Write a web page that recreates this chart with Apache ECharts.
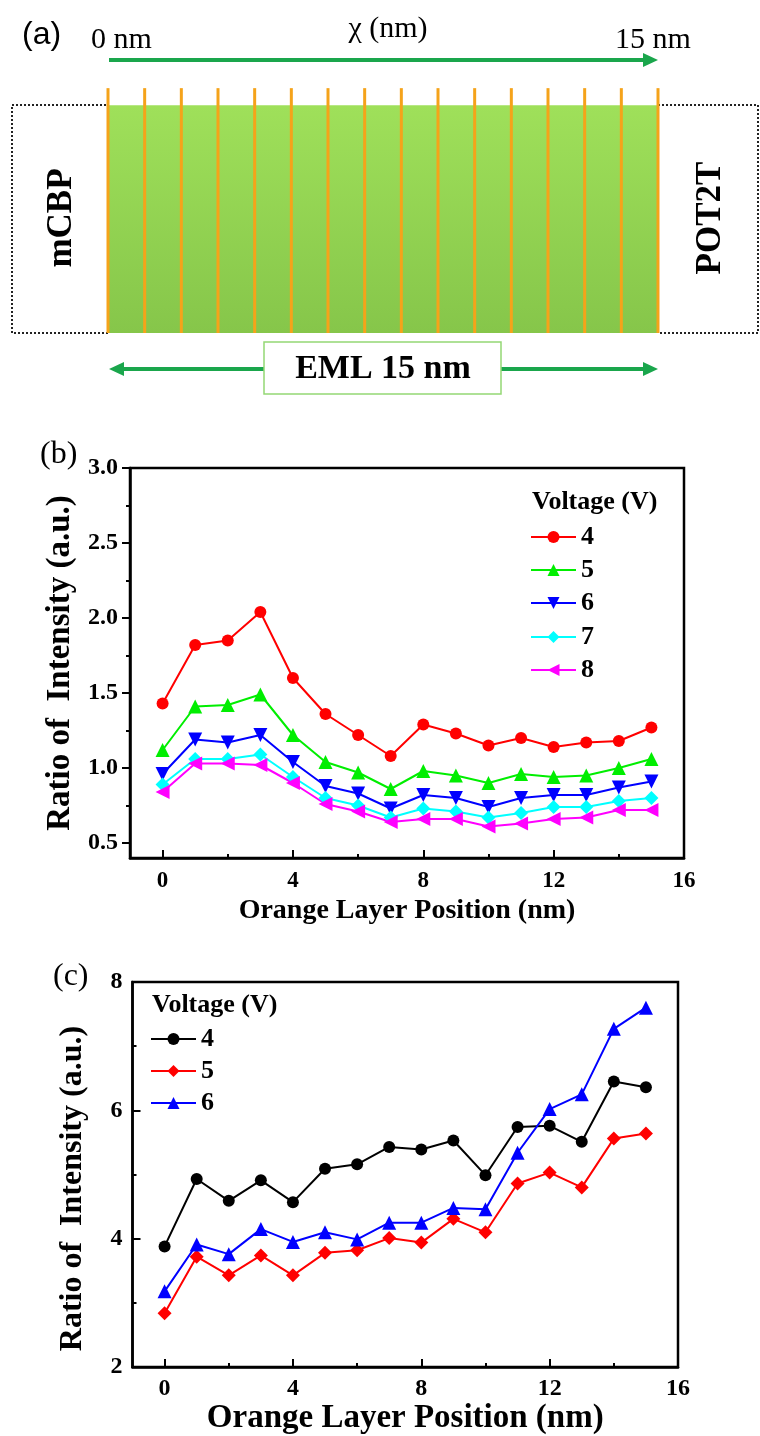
<!DOCTYPE html>
<html>
<head>
<meta charset="utf-8">
<script src="https://cdn.jsdelivr.net/npm/echarts@6/dist/echarts.min.js"></script>
<style>
html,body{margin:0;padding:0;background:#fff;}
#chart{width:760px;height:1436px;}
</style>
</head>
<body>
<div id="chart"></div>
<script>
// ---------- data ----------
const positions = [0,1,2,3,4,5,6,7,8,9,10,11,12,13,14,15];   // orange layer position (nm)
const layerPositions = [0,1,2,3,4,5,6,7,8,9,10,11,12,13,14,15]; // panel (a) orange layers

// panel (b)
const b4 = [1.43,1.82,1.85,2.04,1.60,1.36,1.22,1.08,1.29,1.23,1.15,1.20,1.14,1.17,1.18,1.27];
const b5 = [1.12,1.41,1.42,1.49,1.22,1.04,0.97,0.86,0.98,0.95,0.90,0.96,0.94,0.95,1.00,1.06];
const b6 = [0.96,1.19,1.17,1.22,1.04,0.88,0.83,0.73,0.82,0.80,0.74,0.80,0.82,0.82,0.87,0.91];
const b7 = [0.89,1.06,1.06,1.09,0.94,0.80,0.75,0.67,0.73,0.71,0.67,0.70,0.74,0.74,0.78,0.80];
const b8 = [0.84,1.03,1.03,1.02,0.90,0.76,0.71,0.64,0.66,0.66,0.61,0.63,0.66,0.67,0.72,0.72];

// panel (c)
const c4 = [3.88,4.93,4.59,4.91,4.57,5.09,5.16,5.43,5.39,5.53,4.99,5.74,5.76,5.51,6.45,6.36];
const c5 = [2.84,3.72,3.43,3.74,3.43,3.78,3.82,4.01,3.94,4.31,4.10,4.86,5.03,4.80,5.56,5.64];
const c6 = [3.18,3.91,3.76,4.15,3.95,4.10,3.99,4.25,4.25,4.48,4.46,5.34,6.02,6.25,7.27,7.60];

// ticks
const xMajor = [0,4,8,12,16];
const xMinor = [2,6,10,14];
const bYMajor = [0.5,1.0,1.5,2.0,2.5,3.0];
const bYMinor = [0.75,1.25,1.75,2.25,2.75];
const cYMajor = [2,4,6,8];
const cYMinor = [3,5,7];

const legendTitle = 'Voltage (V)';
const xName = 'Orange Layer Position (nm)';
const yName = 'Ratio of  Intensity (a.u.)';

// ---------- chart ----------
const SERIF = 'Liberation Serif';
const chart = echarts.init(document.getElementById('chart'), null, {renderer:'canvas'});
const pair = (ys) => positions.map((x,i)=>[x, ys[i]]);

function lbl(size){ return {fontFamily:SERIF, fontWeight:'bold', fontSize:size, color:'#000'}; }

function majorX(gridIndex, nameSize, nameGap, margin, lblSize){
  return {type:'value', gridIndex, min:-1, max:16, position:'bottom',
    name:xName, nameLocation:'middle', nameGap,
    nameTextStyle:{fontFamily:SERIF, fontWeight:'bold', fontSize:nameSize, color:'#000'},
    axisLine:{show:true, onZero:false, lineStyle:{color:'#000', width:2.5}},
    axisTick:{show:true, inside:true, length:8, customValues:xMajor, lineStyle:{color:'#000', width:2}},
    axisLabel:{show:true, customValues:xMajor, margin, ...lbl(lblSize)},
    splitLine:{show:false}};
}
function minorX(gridIndex){
  return {type:'value', gridIndex, min:-1, max:16, position:'bottom',
    axisLine:{show:false, onZero:false},
    axisTick:{show:true, inside:true, length:4, customValues:xMinor, lineStyle:{color:'#000', width:2}},
    axisLabel:{show:false, customValues:xMinor}, splitLine:{show:false}};
}
function majorY(gridIndex, min, max, ticks, inside, fmt, nameGap, margin, nameSize, namePad){
  return {type:'value', gridIndex, min, max, position:'left',
    name:yName, nameLocation:'middle', nameGap,
    nameTextStyle:{fontFamily:SERIF, fontWeight:'bold', fontSize:nameSize, color:'#000', padding:namePad},
    axisLine:{show:true, onZero:false, lineStyle:{color:'#000', width:2.5}},
    axisTick:{show:true, inside, length:8, customValues:ticks, lineStyle:{color:'#000', width:2}},
    axisLabel:{show:true, customValues:ticks, margin, formatter:fmt, ...lbl(24)},
    splitLine:{show:false}};
}
function minorY(gridIndex, min, max, ticks, inside){
  return {type:'value', gridIndex, min, max, position:'left',
    axisLine:{show:false, onZero:false},
    axisTick:{show:true, inside, length:4, customValues:ticks, lineStyle:{color:'#000', width:2}},
    axisLabel:{show:false, customValues:ticks}, splitLine:{show:false}};
}

function lineSeries(name, xAxisIndex, yAxisIndex, data, color, symbol, size, rot){
  return {type:'line', name, xAxisIndex, yAxisIndex, data:pair(data),
    symbol, symbolSize:size, symbolRotate:rot||0, showSymbol:true,
    lineStyle:{color, width:2}, itemStyle:{color, borderWidth:0},
    emphasis:{disabled:true}, animation:false, z:3};
}

function legendItem(name, left, cy){
  return {data:[name], left, top:cy-13, orient:'vertical', padding:0, itemGap:0,
    itemWidth:45, itemHeight:15, selectedMode:false,
    formatter:(n)=>n.slice(1),
    textStyle:{fontFamily:SERIF, fontWeight:'bold', fontSize:26, color:'#000', lineHeight:26}};
}

const greenGrad = new echarts.graphic.LinearGradient(0,0,0,1,[
  {offset:0,color:'#9fe05a'},{offset:1,color:'#86c64a'}]);

const option = {
  backgroundColor:'#fff',
  animation:false,
  grid:[
    {left:130, top:468, width:554, height:390, show:true, borderColor:'#000', borderWidth:2.5, backgroundColor:'transparent'},
    {left:132.5, top:982, width:545.5, height:386, show:true, borderColor:'#000', borderWidth:2.5, backgroundColor:'transparent'},
    {left:108, top:87, width:550, height:246, show:false}
  ],
  xAxis:[
    majorX(0, 28, 39, 12, 23),
    minorX(0),
    majorX(1, 33, 32, 10, 24),
    minorX(1),
    {type:'value', gridIndex:2, min:0, max:15, show:false}
  ],
  yAxis:[
    majorY(0, 0.4, 3.0, bYMajor, false, (v)=>Number(v).toFixed(1), 52, 12, 33, [0,0,0,0]),
    minorY(0, 0.4, 3.0, bYMinor, false),
    majorY(1, 2, 8, cYMajor, true, (v)=>String(v), 44, 10, 32, [0,28,0,0]),
    minorY(1, 2, 8, cYMinor, true),
    {type:'value', gridIndex:2, min:0, max:1.08, show:false}
  ],
  legend:[
    legendItem('b4', 530, 537),
    legendItem('b5', 530, 570),
    legendItem('b6', 530, 603),
    legendItem('b7', 530, 637),
    legendItem('b8', 530, 670),
    legendItem('c4', 150, 1039),
    legendItem('c5', 150, 1071),
    legendItem('c6', 150, 1103)
  ],
  series:[
    lineSeries('b4',0,0,b4,'#ff0000','circle',12),
    lineSeries('b5',0,0,b5,'#00ee00','triangle',14),
    lineSeries('b6',0,0,b6,'#0000ff','triangle',14,180),
    lineSeries('b7',0,0,b7,'#00ffff','diamond',14),
    lineSeries('b8',0,0,b8,'#ff00ff','triangle',14,90),
    lineSeries('c4',2,2,c4,'#000000','circle',12),
    lineSeries('c5',2,2,c5,'#ff0000','diamond',14),
    lineSeries('c6',2,2,c6,'#0000ff','triangle',14),
    // panel (a): EML block and orange layers
    {type:'line', name:'eml', xAxisIndex:4, yAxisIndex:4, data:[], z:1, silent:true,
      markArea:{silent:true, itemStyle:{color:greenGrad}, label:{show:false},
        data:[[{coord:[0,0]},{coord:[15,1.0]}]]}},
    {type:'bar', name:'layers', xAxisIndex:4, yAxisIndex:4, barWidth:3, z:3, silent:true,
      itemStyle:{color:'#f5a31a'},
      data:layerPositions.map(x=>[x,1.075])}
  ],
  graphic:[
    {type:'text', x:22, y:35, style:{text:'(a)', font:'32px "Liberation Sans"', fill:'#000', verticalAlign:'middle'}},
    {type:'text', x:91, y:40, style:{text:'0 nm', font:'30px "Liberation Serif"', fill:'#000', verticalAlign:'middle'}},
    {type:'text', x:388, y:29, style:{text:'χ (nm)', font:'30px "Liberation Serif"', fill:'#000', align:'center', verticalAlign:'middle'}},
    {type:'text', x:615, y:40, style:{text:'15 nm', font:'30px "Liberation Serif"', fill:'#000', verticalAlign:'middle'}},
    {type:'line', shape:{x1:109,y1:60,x2:646,y2:60}, style:{stroke:'#1aa64c', lineWidth:4}},
    {type:'polygon', shape:{points:[[643,53],[658,60],[643,67]]}, style:{fill:'#1aa64c'}},
    {type:'rect', shape:{x:12,y:105,width:96,height:228}, style:{fill:null, stroke:'#222', lineWidth:2, lineDash:[2,2]}, z:0},
    {type:'rect', shape:{x:658,y:105,width:100,height:228}, style:{fill:null, stroke:'#222', lineWidth:2, lineDash:[2,2]}, z:0},
    {type:'text', x:62, y:218, rotation:Math.PI/2, style:{text:'mCBP', font:'bold 35px "Liberation Serif"', fill:'#000', align:'center', verticalAlign:'middle'}},
    {type:'text', x:711, y:218, rotation:Math.PI/2, style:{text:'POT2T', font:'bold 35px "Liberation Serif"', fill:'#000', align:'center', verticalAlign:'middle'}},
    {type:'line', shape:{x1:121,y1:369,x2:265,y2:369}, style:{stroke:'#1aa64c', lineWidth:4}},
    {type:'polygon', shape:{points:[[109,369],[124,362],[124,376]]}, style:{fill:'#1aa64c'}},
    {type:'line', shape:{x1:501,y1:369,x2:646,y2:369}, style:{stroke:'#1aa64c', lineWidth:4}},
    {type:'polygon', shape:{points:[[658,369],[643,362],[643,376]]}, style:{fill:'#1aa64c'}},
    {type:'rect', shape:{x:264,y:342,width:237,height:52}, style:{fill:'#fff', stroke:'#94d874', lineWidth:1.5}},
    {type:'text', x:383, y:369, style:{text:'EML 15 nm', font:'bold 34px "Liberation Serif"', fill:'#000', align:'center', verticalAlign:'middle'}},
    {type:'text', x:40, y:455, style:{text:'(b)', font:'32px "Liberation Serif"', fill:'#000', verticalAlign:'middle'}},
    {type:'text', x:53, y:977, style:{text:'(c)', font:'32px "Liberation Serif"', fill:'#000', verticalAlign:'middle'}},
    {type:'text', x:532, y:502, style:{text:legendTitle, font:'bold 26px "Liberation Serif"', fill:'#000', verticalAlign:'middle'}},
    {type:'text', x:152, y:1005, style:{text:legendTitle, font:'bold 26px "Liberation Serif"', fill:'#000', verticalAlign:'middle'}}
  ]
};
chart.setOption(option);
</script>
</body>
</html>
